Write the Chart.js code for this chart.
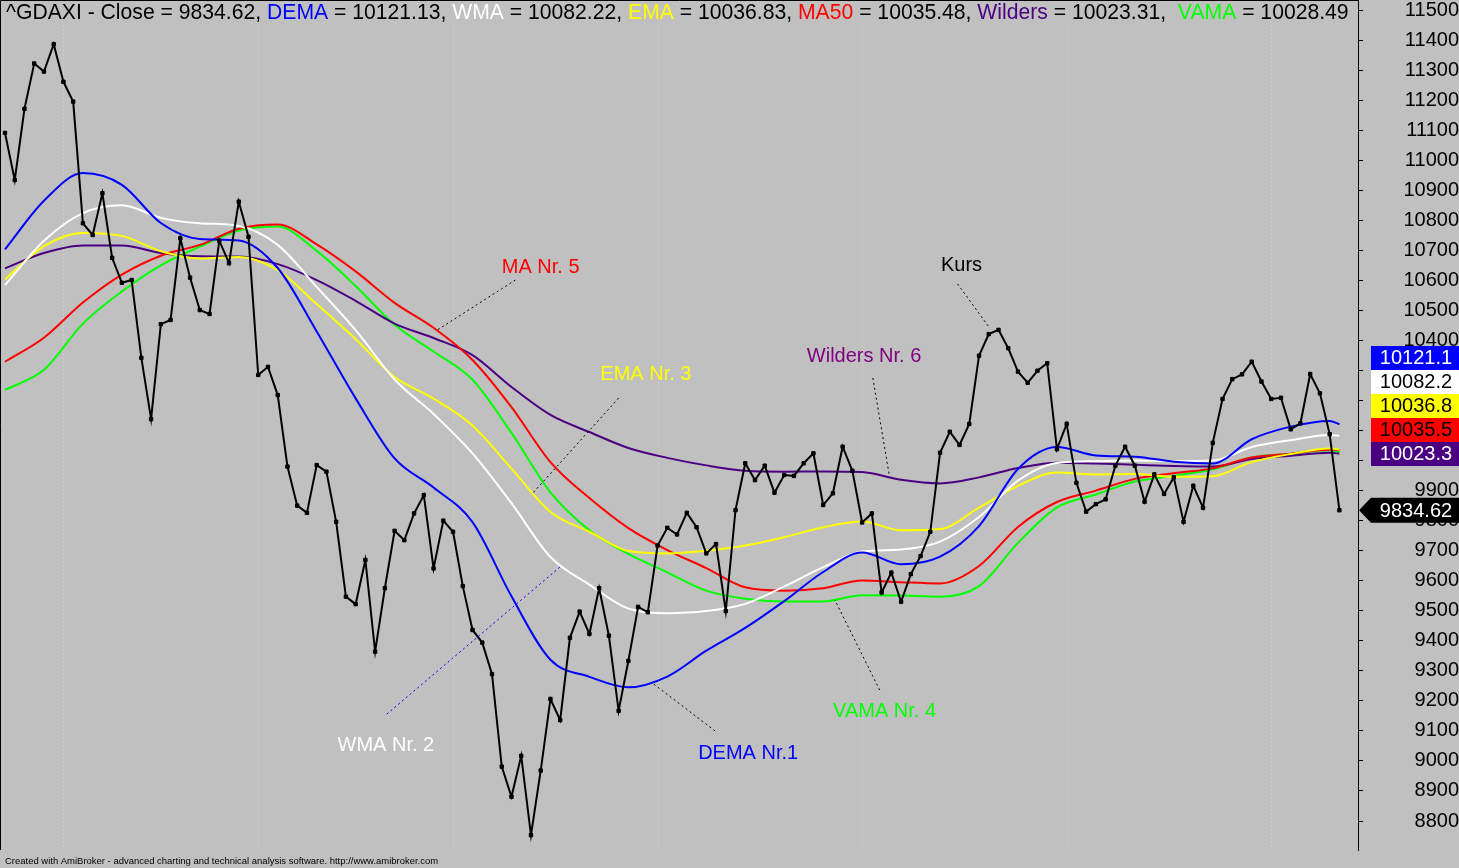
<!DOCTYPE html>
<html>
<head>
<meta charset="utf-8">
<script src="https://cdn.jsdelivr.net/npm/chart.js@4/dist/chart.umd.min.js"></script>
<style>
  html, body { margin: 0; padding: 0; background: #c0c0c0; overflow: hidden; }
  #wrap { width: 1459px; height: 868px; }
</style>
</head>
<body>
<div id="wrap"><canvas id="c"></canvas></div>
<script>
// closing prices, one per trading day (x = day index)
const price = [
  11091, 10934, 11171, 11322, 11295, 11386, 11261, 11195, 10790, 10751,
  10890, 10675, 10592, 10601, 10342, 10138, 10454, 10468, 10740, 10609,
  10501, 10488, 10732, 10657, 10862, 10745, 10285, 10312, 10218, 9980,
  9850, 9826, 9985, 9963, 9796, 9547, 9522, 9669, 9364, 9575,
  9766, 9735, 9824, 9885, 9641, 9800, 9763, 9582, 9436, 9394,
  9289, 8981, 8881, 9017, 8753, 8968, 9206, 9136, 9410, 9497,
  9423, 9575, 9417, 9167, 9333, 9513, 9495, 9717, 9776, 9754,
  9826, 9778, 9691, 9722, 9499, 9835, 9991, 9935, 9983, 9893,
  9952, 9949, 9991, 10024, 9852, 9891, 10046, 9966, 9794, 9824,
  9561, 9627, 9530, 9622, 9682, 9763, 10026, 10096, 10052, 10122,
  10349, 10421, 10435, 10374, 10296, 10259, 10299, 10324, 10038, 10122,
  9926, 9830, 9855, 9871, 9983, 10046, 9983, 9863, 9954, 9889,
  9944, 9796, 9916, 9843, 10059, 10205, 10271, 10287, 10329, 10263,
  10205, 10209, 10104, 10124, 10288, 10224, 10088, 9834.62
];

const maIdx = [0, 4, 8, 12, 16, 20, 24, 28, 32, 36, 40, 44, 48, 52, 56, 60, 64, 68,
  72, 76, 80, 84, 88, 92, 96, 100, 104, 108, 112, 116, 120, 124, 128, 132, 136, 137];

const dema = [10703, 10865, 10957, 10918, 10791, 10738, 10733, 10641, 10430, 10207,
  10007, 9910, 9795, 9548, 9337, 9280, 9245, 9281, 9367, 9443, 9532, 9629, 9694, 9655,
  9680, 9782, 9972, 10045, 10017, 10013, 9996, 9990, 10071, 10113, 10132, 10121.13];
const wma = [10584, 10732, 10824, 10850, 10808, 10790, 10781, 10718, 10578, 10434,
  10270, 10155, 10024, 9858, 9679, 9587, 9507, 9492, 9499, 9523, 9581, 9645, 9697, 9704,
  9730, 9812, 9933, 9992, 9998, 10000, 9998, 10000, 10045, 10068, 10085, 10082.22];
const ema = [10603, 10714, 10758, 10748, 10697, 10673, 10678, 10634, 10521, 10404,
  10278, 10206, 10117, 9973, 9829, 9763, 9699, 9691, 9700, 9717, 9745, 9778, 9797, 9768,
  9772, 9843, 9916, 9960, 9954, 9955, 9946, 9948, 9995, 10022, 10040, 10036.83];
const ma50 = [10329, 10409, 10526, 10619, 10682, 10718, 10772, 10786, 10720, 10630,
  10525, 10442, 10335, 10178, 9995, 9875, 9775, 9702, 9642, 9578, 9567, 9575, 9601, 9595,
  9591, 9649, 9779, 9862, 9900, 9939, 9958, 9974, 10010, 10023, 10036, 10035.48];
const wilders = [10640, 10691, 10716, 10716, 10691, 10680, 10679, 10654, 10601, 10532,
  10456, 10408, 10351, 10245, 10152, 10095, 10042, 10009, 9984, 9966, 9963, 9964, 9962, 9936,
  9924, 9944, 9975, 9993, 9990, 9986, 9982, 9980, 10005, 10016, 10026, 10023.31];
const vama = [10235, 10302, 10456, 10563, 10650, 10712, 10766, 10779, 10698, 10581,
  10452, 10363, 10269, 10092, 9894, 9768, 9689, 9628, 9567, 9540, 9531, 9531, 9552, 9551,
  9547, 9582, 9726, 9844, 9887, 9930, 9949, 9971, 10010, 10023, 10034, 10028.49];

const yTicks = [8800, 8900, 9000, 9100, 9200, 9300, 9400, 9500, 9600, 9700, 9800, 9900,
  10000, 10100, 10200, 10300, 10400, 10500, 10600, 10700, 10800, 10900, 11000, 11100,
  11200, 11300, 11400, 11500];

// first trading day of each month (dotted separators)
const monthStarts = [6, 26, 46, 67, 88, 109, 130];

const FONT = "'Liberation Sans', Arial, sans-serif";
const C = {
  dema: '#0000ff', wma: '#ffffff', ema: '#ffff00', ma50: '#ff0000',
  wilders: '#4b0082', vama: '#00ff00', close: '#000000'
};

// labels on the chart: text position and leader line, in (day, value)
const notes = [
  { text: 'MA Nr. 5', color: '#ff0000', at: [55.0, 10644], from: [52.4, 10601], to: [44.4, 10435], line: '#000' },
  { text: 'EMA Nr. 3', color: '#ffff00', at: [65.8, 10285], from: [63.0, 10208], to: [54.2, 9892], line: '#000' },
  { text: 'Wilders Nr. 6', color: '#800080', at: [88.2, 10348], from: [89.1, 10275], to: [90.8, 9949], line: '#000' },
  { text: 'Kurs', color: '#000000', at: [98.2, 10651], from: [97.8, 10588], to: [101.1, 10441], line: '#000' },
  { text: 'WMA Nr. 2', color: '#ffffff', at: [39.1, 9053], from: [39.2, 9156], to: [57.0, 9646], line: '#0000ff' },
  { text: 'DEMA Nr.1', color: '#0000ff', at: [76.3, 9026], from: [72.9, 9100], to: [66.6, 9256], line: '#000' },
  { text: 'VAMA Nr. 4', color: '#00ff00', at: [90.3, 9163], from: [89.8, 9236], to: [85.2, 9536], line: '#000' }
];

const last = (arr) => arr[arr.length - 1];
const series = (vals) => vals.map((v, k) => ({ x: maIdx[k], y: v }));

const maLine = (label, vals, color) => ({
  label,
  data: series(vals),
  borderColor: color,
  borderWidth: 2,
  pointRadius: 0,
  cubicInterpolationMode: 'monotone',
  fill: false
});

const amiPlugin = {
  id: 'ami',
  beforeDraw(chart) {
    const { ctx, width, height, chartArea: a, scales: { x } } = chart;
    ctx.save();
    ctx.fillStyle = '#c0c0c0';
    ctx.fillRect(0, 0, width, height);

    ctx.strokeStyle = '#dcdcc4';
    ctx.lineWidth = 1;
    ctx.setLineDash([1, 3]);
    monthStarts.forEach((m) => {
      const px = Math.round(x.getPixelForValue(m)) + 0.5;
      ctx.beginPath();
      ctx.moveTo(px, a.top + 26);
      ctx.lineTo(px, a.bottom);
      ctx.stroke();
    });
    ctx.setLineDash([]);

    ctx.strokeStyle = '#000';
    ctx.beginPath();
    ctx.moveTo(0.5, a.bottom);
    ctx.lineTo(0.5, 0.5);
    ctx.lineTo(a.right, 0.5);
    ctx.stroke();
    ctx.restore();
  },
  afterDraw(chart) {
    const { ctx, chartArea: a, scales: { x, y } } = chart;
    const px = (p) => [x.getPixelForValue(p[0]), y.getPixelForValue(p[1])];
    ctx.save();

    // leader lines and labels
    notes.forEach((n) => {
      const f = px(n.from), t = px(n.to), c = px(n.at);
      ctx.strokeStyle = n.line;
      ctx.lineWidth = 1;
      ctx.setLineDash([2, 3]);
      ctx.beginPath();
      ctx.moveTo(f[0], f[1]);
      ctx.lineTo(t[0], t[1]);
      ctx.stroke();
      ctx.setLineDash([]);
      ctx.font = '20px ' + FONT;
      ctx.fillStyle = n.color;
      ctx.textAlign = 'center';
      ctx.textBaseline = 'middle';
      ctx.fillText(n.text, c[0], c[1]);
    });

    // title line with coloured names
    const parts = [
      ['^GDAXI - Close = ' + last(price).toFixed(2) + ', ', '#000'],
      ['DEMA', C.dema], [' = ' + last(dema).toFixed(2) + ', ', '#000'],
      ['WMA', C.wma], [' = ' + last(wma).toFixed(2) + ', ', '#000'],
      ['EMA', C.ema], [' = ' + last(ema).toFixed(2) + ', ', '#000'],
      ['MA50', C.ma50], [' = ' + last(ma50).toFixed(2) + ', ', '#000'],
      ['Wilders', C.wilders], [' = ' + last(wilders).toFixed(2) + ',  ', '#000'],
      ['VAMA', C.vama], [' = ' + last(vama).toFixed(2), '#000']
    ];
    ctx.font = '20px ' + FONT;
    const w20 = parts.reduce((s, p) => s + ctx.measureText(p[0]).width, 0);
    const fs = 20 * 1343 / w20;
    ctx.font = fs.toFixed(2) + 'px ' + FONT;
    ctx.textAlign = 'left';
    ctx.textBaseline = 'middle';
    let tx = 6;
    parts.forEach((p) => {
      ctx.fillStyle = p[1];
      ctx.fillText(p[0], tx, 13);
      tx += ctx.measureText(p[0]).width;
    });

    // value boxes on the axis, stacked upward from the lowest
    const boxes = [
      { v: last(dema), bg: C.dema, fg: '#fff' },
      { v: last(wma), bg: C.wma, fg: '#000' },
      { v: last(ema), bg: C.ema, fg: '#000' },
      { v: last(ma50), bg: C.ma50, fg: '#000' },
      { v: last(wilders), bg: C.wilders, fg: '#fff' }
    ].sort((p, q) => p.v - q.v);
    const bh = 24, bx = a.right + 13, bw = chart.width - bx;
    let prev = Infinity;
    ctx.font = '20px ' + FONT;
    ctx.textAlign = 'center';
    boxes.forEach((b) => {
      let cy = y.getPixelForValue(b.v);
      cy = Math.min(cy, prev - bh);
      prev = cy;
      ctx.fillStyle = b.bg;
      ctx.fillRect(bx, Math.round(cy - bh / 2), bw, bh);
      ctx.fillStyle = b.fg;
      ctx.fillText(b.v.toFixed(1), bx + bw / 2 + 1, cy + 1);
    });

    // close price tag
    const cy = y.getPixelForValue(last(price));
    ctx.fillStyle = '#000';
    ctx.beginPath();
    ctx.moveTo(a.right + 1, cy);
    ctx.lineTo(bx, cy - 12.5);
    ctx.lineTo(chart.width, cy - 12.5);
    ctx.lineTo(chart.width, cy + 12.5);
    ctx.lineTo(bx, cy + 12.5);
    ctx.closePath();
    ctx.fill();
    ctx.fillStyle = '#fff';
    ctx.fillText(last(price).toFixed(2), bx + bw / 2 + 1, cy + 1);

    // footer
    const foot = 'Created with AmiBroker - advanced charting and technical analysis software. http://www.amibroker.com';
    ctx.font = '10px ' + FONT;
    const fw = ctx.measureText(foot).width;
    ctx.font = (10 * 433 / fw).toFixed(2) + 'px ' + FONT;
    ctx.fillStyle = '#000';
    ctx.textAlign = 'left';
    ctx.fillText(foot, 5, 861);
    ctx.restore();
  }
};

new Chart(document.getElementById('c'), {
  type: 'line',
  data: {
    datasets: [
      {
        label: 'Close',
        data: price.map((v, i) => ({ x: i, y: v })),
        borderColor: C.close,
        borderWidth: 2,
        tension: 0,
        pointStyle: 'rect',
        pointRadius: 2.4,
        pointBorderWidth: 1,
        pointBackgroundColor: '#000',
        pointBorderColor: '#000'
      },
      maLine('DEMA', dema, C.dema),
      maLine('WMA', wma, C.wma),
      maLine('EMA', ema, C.ema),
      maLine('MA50', ma50, C.ma50),
      maLine('Wilders', wilders, C.wilders),
      maLine('VAMA', vama, C.vama)
    ]
  },
  options: {
    responsive: true,
    maintainAspectRatio: false,
    animation: false,
    devicePixelRatio: 1,
    layout: { padding: 0, autoPadding: false },
    plugins: { legend: { display: false }, tooltip: { enabled: false } },
    scales: {
      x: {
        type: 'linear',
        min: -0.513,
        max: 138.91,
        ticks: { display: false },
        grid: { display: false },
        border: { display: false },
        afterFit(s) { s.height = 18; }
      },
      y: {
        position: 'right',
        min: 8703.5,
        max: 11533.3,
        afterBuildTicks(s) { s.ticks = yTicks.map((v) => ({ value: v })); },
        afterFit(s) { s.width = 101; s.paddingTop = 0; s.paddingBottom = 0; },
        ticks: {
          autoSkip: false,
          color: '#000',
          font: { family: FONT, size: 20 },
          crossAlign: 'far',
          padding: 33,
          callback: (v) => String(v)
        },
        grid: { drawOnChartArea: false, drawTicks: true, tickLength: 5, color: '#000' },
        border: { display: true, color: '#000', width: 1 }
      }
    }
  },
  plugins: [amiPlugin]
});
</script>
</body>
</html>
